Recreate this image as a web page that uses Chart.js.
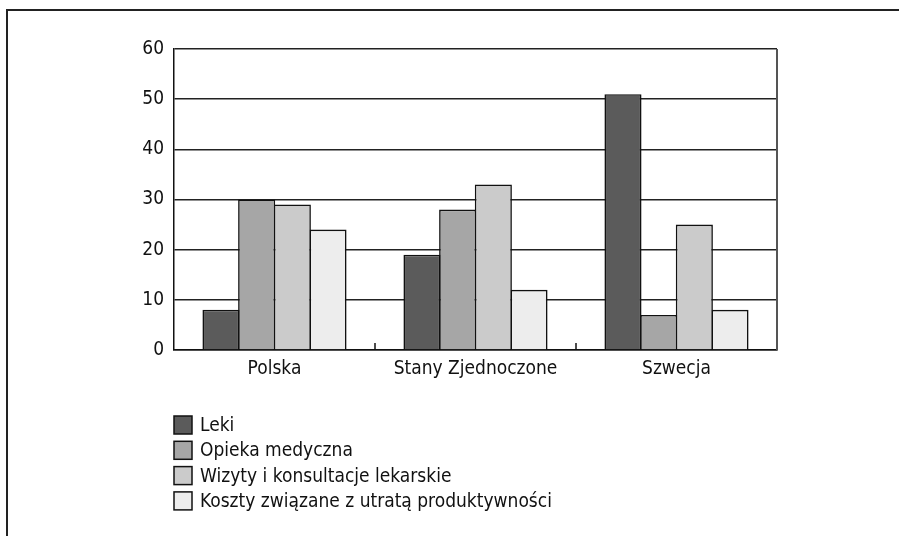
<!DOCTYPE html>
<html>
<head>
<meta charset="utf-8">
<script src="https://cdn.jsdelivr.net/npm/chart.js@4/dist/chart.umd.min.js"></script>
<style>
  html, body { margin: 0; padding: 0; background: #fff; }
  #wrap { position: relative; width: 899px; height: 536px; overflow: hidden; }
  #frame { position: absolute; left: 6px; top: 9px; width: 1000px; height: 1000px;
           border-left: 2px solid #222; border-top: 2px solid #222; }
  canvas { position: absolute; left: 0; top: 0; }
</style>
</head>
<body>
<div id="wrap">
  <div id="frame"></div>
  <canvas id="c" width="899" height="536"></canvas>
</div>
<script>
const categories = ['Polska', 'Stany Zjednoczone', 'Szwecja'];
const seriesNames = ['Leki', 'Opieka medyczna', 'Wizyty i konsultacje lekarskie', 'Koszty związane z utratą produktywności'];
const leki = [8, 19, 51];
const opieka = [30, 28, 7];
const wizyty = [29, 33, 25];
const koszty = [24, 12, 8];
const yMin = 0, yMax = 60, yStep = 10;
const colors = ['#5b5b5b', '#a6a6a6', '#cbcbcb', '#ededed'];

const FONT = "'Liberation Sans Narrow', 'DejaVu Sans Condensed', 'Arial Narrow', sans-serif";
const seriesValues = [leki, opieka, wizyty, koszty];

const extras = {
  id: 'extras',
  afterDraw(chart) {
    const ctx = chart.ctx;
    const a = chart.chartArea;
    const x = chart.scales.x;
    ctx.save();
    // right edge of plot
    ctx.strokeStyle = '#555';
    ctx.lineWidth = 2;
    ctx.beginPath();
    ctx.moveTo(a.right, a.top);
    ctx.lineTo(a.right, a.bottom);
    ctx.stroke();
    // separator ticks between categories
    ctx.strokeStyle = '#111';
    ctx.lineWidth = 1.5;
    for (let i = 0; i < categories.length - 1; i++) {
      const px = (x.getPixelForValue(i) + x.getPixelForValue(i + 1)) / 2;
      ctx.beginPath();
      ctx.moveTo(px, a.bottom);
      ctx.lineTo(px, a.bottom - 7);
      ctx.stroke();
    }
    // legend, one entry per row
    const lx = a.left, ly0 = 416, rowH = 25.3, box = 18;
    ctx.font = '19px ' + FONT;
    ctx.textBaseline = 'middle';
    ctx.textAlign = 'left';
    chart.data.datasets.forEach((ds, i) => {
      const y = ly0 + i * rowH;
      ctx.fillStyle = ds.backgroundColor;
      ctx.fillRect(lx, y, box, box);
      ctx.strokeStyle = '#111';
      ctx.lineWidth = 1.5;
      ctx.strokeRect(lx, y, box, box);
      ctx.fillStyle = '#111';
      ctx.fillText(ds.label, lx + box + 8, y + box / 2 + 1);
    });
    ctx.restore();
  }
};

new Chart(document.getElementById('c'), {
  type: 'bar',
  data: {
    labels: categories,
    datasets: seriesNames.map((name, i) => ({
      label: name,
      data: seriesValues[i],
      backgroundColor: colors[i],
      borderColor: '#111',
      borderWidth: 1.6,
      categoryPercentage: 0.71,
      barPercentage: 1.04
    }))
  },
  options: {
    responsive: false,
    animation: false,
    devicePixelRatio: 1,
    layout: { padding: { left: 0, right: 122, top: 49, bottom: 156 } },
    plugins: { legend: { display: false }, tooltip: { enabled: false } },
    scales: {
      x: {
        grid: { display: false, drawTicks: false },
        border: { display: true, color: '#111', width: 1.5 },
        ticks: { color: '#111', font: { family: FONT, size: 19 }, padding: 8 },
        afterFit(s) { s.height = 30; }
      },
      y: {
        min: yMin, max: yMax,
        grid: { color: '#222', lineWidth: 1.5, drawTicks: false },
        border: { display: true, color: '#111', width: 1.5 },
        ticks: { stepSize: yStep, color: '#111', font: { family: FONT, size: 19 }, padding: 10 },
        afterFit(s) { s.width = 174; }
      }
    }
  },
  plugins: [extras]
});
</script>
</body>
</html>
